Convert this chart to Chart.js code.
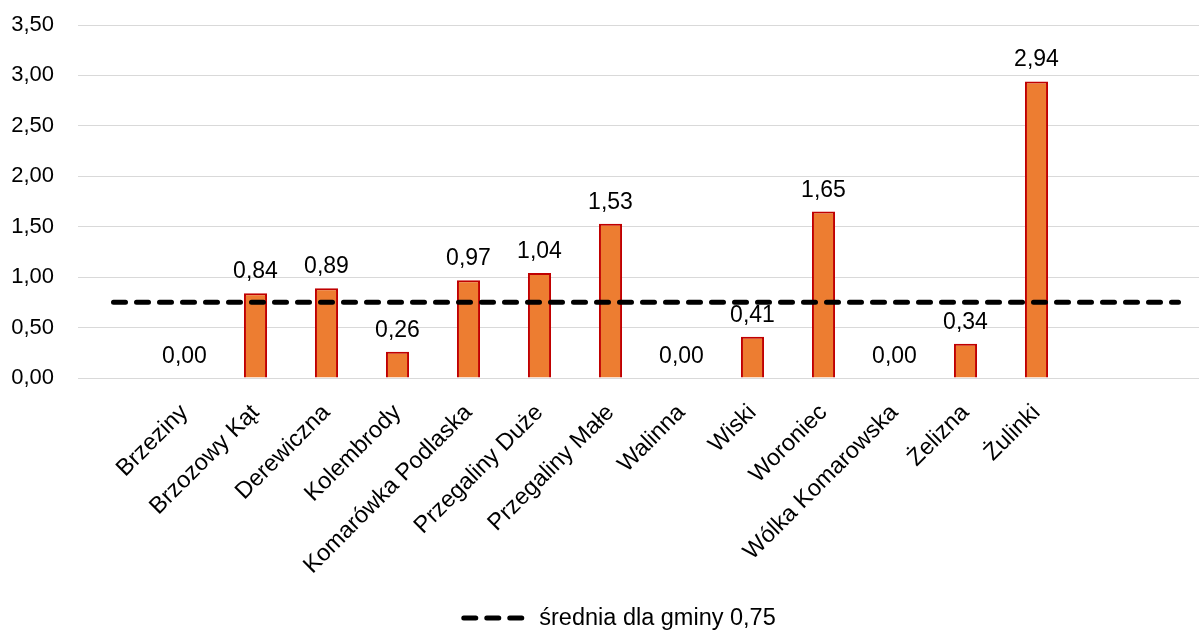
<!DOCTYPE html>
<html>
<head>
<meta charset="utf-8">
<script src="https://cdn.jsdelivr.net/npm/chart.js@4/dist/chart.umd.min.js"></script>
<style>
html,body{margin:0;padding:0;overflow:hidden;background:#fff;width:1199px;height:630px;}
canvas{display:block;}
</style>
</head>
<body>
<canvas id="c" width="1214" height="630"></canvas>
<script>
const categories = ['', 'Brzeziny', 'Brzozowy Kąt', 'Derewiczna', 'Kolembrody', 'Komarówka Podlaska', 'Przegaliny Duże', 'Przegaliny Małe', 'Walinna', 'Wiski', 'Woroniec', 'Wólka Komarowska', 'Żelizna', 'Żulinki', '', ''];
const values = [null, 0.00, 0.84, 0.89, 0.26, 0.97, 1.04, 1.53, 0.00, 0.41, 1.65, 0.00, 0.34, 2.94, null, null];
const averageLabel = 'średnia dla gminy 0,75';
const averageValue = 0.75;
const averageSeries = categories.map(() => averageValue);
const yTicks = { min: 0, max: 3.5, step: 0.5 };

const fmt = v => v.toFixed(2).replace('.', ',');
const FONT = "'Liberation Sans', Arial, sans-serif";
const FS = 22;      // y ticks
const FS_X = 23.5;  // category labels
const FS_V = 23;    // value labels
const FS_L = 23.5;  // legend
const DASH = [12, 11];

const valueLabels = {
  id: 'valueLabels',
  afterDatasetsDraw(chart) {
    const meta = chart.getDatasetMeta(1);
    const ctx = chart.ctx;
    ctx.save();
    ctx.font = FS_V + 'px ' + FONT;
    ctx.fillStyle = '#000';
    ctx.textAlign = 'center';
    ctx.textBaseline = 'alphabetic';
    meta.data.forEach((el, i) => {
      const v = values[i];
      if (v === null || v === undefined) return;
      ctx.fillText(fmt(v), el.x, el.y - 15);
    });
    ctx.restore();
  }
};

const customLegend = {
  id: 'customLegend',
  afterDraw(chart) {
    const lg = chart.legend;
    if (!lg || !lg.legendHitBoxes || !lg.legendHitBoxes.length) return;
    const hb = lg.legendHitBoxes[0];
    const ctx = chart.ctx;
    ctx.save();
    ctx.font = FS_L + 'px ' + FONT;
    const tw = ctx.measureText(averageLabel).width;
    const lineW = 63, gap = 15;
    const total = lineW + gap + tw;
    const cx = (lg.left + lg.right) / 2 + 6;
    const cy = hb.top + hb.height / 2;
    const x0 = cx - total / 2;
    ctx.strokeStyle = '#000';
    ctx.lineWidth = 5;
    ctx.lineCap = 'round';
    ctx.setLineDash(DASH);
    ctx.beginPath();
    ctx.moveTo(x0 + 2.5, cy);
    ctx.lineTo(x0 + lineW - 2.5, cy);
    ctx.stroke();
    ctx.setLineDash([]);
    ctx.fillStyle = '#000';
    ctx.textAlign = 'left';
    ctx.textBaseline = 'middle';
    ctx.fillText(averageLabel, x0 + lineW + gap, cy + 1);
    ctx.restore();
  }
};

new Chart(document.getElementById('c'), {
  data: {
    labels: categories,
    datasets: [
      {
        type: 'line',
        label: averageLabel,
        data: averageSeries,
        borderColor: '#000',
        backgroundColor: '#000',
        borderWidth: 5,
        borderDash: DASH,
        borderCapStyle: 'round',
        pointRadius: 0,
        pointStyle: 'line',
        order: 0
      },
      {
        type: 'bar',
        label: 'wartość',
        data: values,
        backgroundColor: '#ED7D31',
        borderColor: '#C00000',
        borderWidth: ctx => (values[ctx.dataIndex] ? 2 : 0),
        borderSkipped: 'bottom',
        categoryPercentage: 1,
        barPercentage: 0.325,
        order: 1
      }
    ]
  },
  options: {
    responsive: false,
    animation: false,
    devicePixelRatio: 1,
    layout: { padding: { top: 25, left: 11, right: 0, bottom: -9 } },
    plugins: {
      tooltip: { enabled: false },
      legend: {
        position: 'bottom',
        labels: {
          filter: item => item.datasetIndex === 0,
          generateLabels: chart => Chart.defaults.plugins.legend.labels.generateLabels(chart).map(it => Object.assign(it, {
            lineWidth: 0, strokeStyle: 'rgba(0,0,0,0)', fillStyle: 'rgba(0,0,0,0)', fontColor: 'rgba(0,0,0,0)'
          })),
          font: { size: FS, family: FONT },
          color: 'rgba(0,0,0,0)',
          usePointStyle: true,
          pointStyle: 'line',
          pointStyleWidth: 63,
          boxWidth: 63,
          boxHeight: FS,
          padding: 3
        }
      }
    },
    scales: {
      x: {
        grid: { display: false, drawTicks: false },
        border: { display: false },
        afterFit: s => { s.height = 226; s.paddingLeft = 0; s.paddingRight = 0; s.paddingTop = 0; s.paddingBottom = 0; },
        ticks: {
          font: { size: FS_X, family: FONT },
          color: '#000',
          maxRotation: 45,
          minRotation: 45,
          autoSkip: false,
          padding: 21
        }
      },
      y: {
        min: yTicks.min,
        max: yTicks.max,
        afterFit: s => { s.width = 67; s.paddingTop = 0; s.paddingBottom = 0; },
        grid: { color: '#d9d9d9', lineWidth: 1, drawTicks: false },
        border: { display: false },
        ticks: {
          stepSize: yTicks.step,
          font: { size: FS, family: FONT },
          color: '#000',
          padding: 24,
          callback: v => fmt(v)
        }
      }
    }
  },
  plugins: [valueLabels, customLegend]
});
</script>
</body>
</html>
